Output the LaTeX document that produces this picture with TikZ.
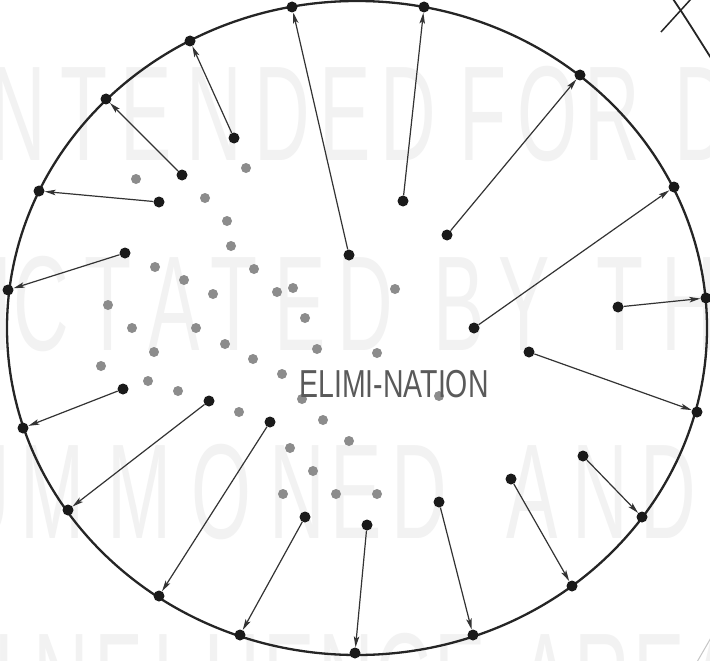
\documentclass[tikz,border=0pt]{standalone}
\usepackage{fontspec}
\setmainfont{Liberation Sans}
\usetikzlibrary{arrows.meta}
\definecolor{wmcol}{HTML}{F2F2F2}
\definecolor{dotblack}{HTML}{1A1A1A}
\definecolor{dotgray}{HTML}{8C8C8C}
\definecolor{linecol}{HTML}{333333}
\definecolor{rimcol}{HTML}{252525}
\definecolor{titlecol}{HTML}{5A5A5A}
\begin{document}
\begin{tikzpicture}[x=1pt,y=-1pt,
  bdot/.style={circle,fill=dotblack,inner sep=0pt,minimum size=11pt},
  gdot/.style={circle,fill=dotgray,inner sep=0pt,minimum size=10pt},
  link/.style={draw=linecol,line width=1.2pt,-{Stealth[length=11pt,width=5.5pt,inset=2.5pt]}},
  wm/.style={text=wmcol,font=\fontsize{135}{135}\selectfont,inner sep=0pt,anchor=base},
  titlestyle/.style={text=titlecol,font=\fontsize{39}{39}\selectfont,inner sep=0pt}]

\fill[white] (0,0) rectangle (710,661);
\useasboundingbox (0,0) rectangle (710,661);

% background watermark
\foreach \c/\x [count=\i] in {N/18,T/84,E/146,N/214,D/282,E/345,D/408,F/483,O/547,R/612,D/702}
  \node[wm] (wa\i) at (\x,160) {\scalebox{0.57}[1]{\c}};
\foreach \c/\x [count=\i] in {I/2,C/41,T/108,A/174,T/234,E/300,D/365,B/459,Y/524,T/620,H/689}
  \node[wm] (wb\i) at (\x,350) {\scalebox{0.57}[1]{\c}};
\foreach \c/\x [count=\i] in {U/-18,M/53,M/140,O/221,N/297,E/356,D/419,A/532,N/600,D/668}
  \node[wm] (wc\i) at (\x,538) {\scalebox{0.57}[1]{\c}};
\foreach \c/\x [count=\i] in {I/4,N/61,F/118,L/175,U/232,E/289,N/346,C/403,E/460,A/545,R/602,E/659,A/716}
  \node[wm] (wd\i) at (\x,727) {\scalebox{0.57}[1]{\c}};

% neighbouring shapes at the corners
\draw[rimcol,line width=1.8pt] (673,-1) .. controls (686,18) and (697,36) .. (711,58);
\draw[rimcol,line width=1.5pt] (661,32) -- (691,-1);
\draw[gray!45,line width=1pt] (697,662) -- (712,636);

% main rim
\draw[rimcol,line width=2.3pt] (357,328) ellipse [x radius=350, y radius=327];

% grey dots
\foreach \x/\y [count=\i] in {136/179,246/168,205/198,227/221,231/246,155/267,184/280,254/269,
  213/294,277/292,293/288,108/305,305/318,132/328,196/328,395/289,225/344,154/352,101/366,
  148/381,178/391,253/359,317/349,282/374,302/399,239/412,323/420,349/441,290/448,313/471,
  283/494,336/494,377/353,439/396,377/494}
  \node[gdot] (g\i) at (\x,\y) {};

% outer dots
\foreach \x/\y [count=\i] in {292/7,190/41,106/99,39/191,8/290,23/428,68/510,159/596,240/635,
  355/653,473/635,572/586,642/517,697/412,706/298,674/187,580/75,424/7}
  \node[bdot] (o\i) at (\x,\y) {};

% inner dots
\foreach \x/\y [count=\i] in {349/255,234/138,182/175,159/202,125/253,123/389,209/401,270/422,
  305/517,367/525,439/502,511/479,583/456,529/352,618/307,474/328,447/235,403/201}
  \node[bdot] (i\i) at (\x,\y) {};

% connectors
\foreach \i in {1,...,18}
  \draw[link] (i\i) -- (o\i);

% label
\node[titlestyle] (title) at (394,384) {\scalebox{0.73}[1]{ELIMI-NATION}};
\end{tikzpicture}
\end{document}
